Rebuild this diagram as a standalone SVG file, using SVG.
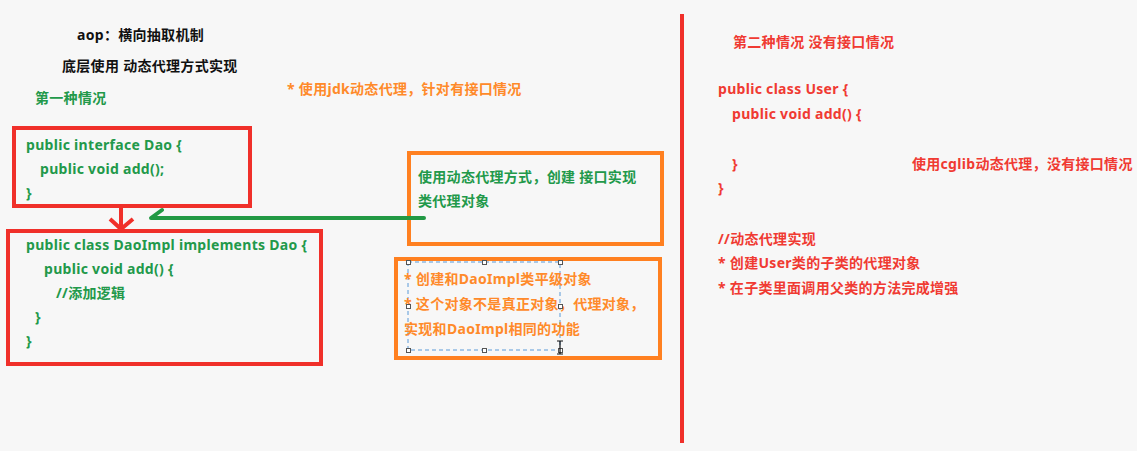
<svg xmlns="http://www.w3.org/2000/svg" width="1137" height="451" viewBox="0 0 1137 451">
<style>
text{font-family:"Noto Sans","Noto Sans CJK SC",sans-serif;font-size:14px;font-weight:bold;letter-spacing:0.3px}
.k{fill:#111}
.g{fill:#22994a}
.o{fill:#ff8a2a}
.r{fill:#f03a32}
.rb{fill:none;stroke:#f0302a;stroke-width:4}
.ob{fill:none;stroke:#ff8020;stroke-width:4}
.h{fill:#fff;stroke:#555;stroke-width:1}
</style>
<rect width="1137" height="451" fill="#f7f7f7"/>
<g id="title">
<text class="k" x="77" y="40">aop：横向抽取机制</text>
<text class="k" x="62" y="71">底层使用 动态代理方式实现</text>
<text class="g" x="35" y="103">第一种情况</text>
<text class="o" x="287" y="94">* 使用jdk动态代理，针对有接口情况</text>
</g>
<g id="dao">
<rect class="rb" x="14" y="128" width="236" height="78"/>
<text class="g" x="26" y="150">public interface Dao {</text>
<text class="g" x="40" y="174">public void add();</text>
<text class="g" x="26" y="198">}</text>
</g>
<g id="daoimpl">
<rect class="rb" x="8" y="231" width="313" height="133"/>
<text class="g" x="26" y="250">public class DaoImpl implements Dao {</text>
<text class="g" x="44" y="274">public void add() {</text>
<text class="g" x="56" y="298">//添加逻辑</text>
<text class="g" x="35" y="322">}</text>
<text class="g" x="26" y="346">}</text>
</g>
<g id="proxy-note">
<rect class="ob" x="409" y="153" width="253" height="91"/>
<text class="g" x="418" y="182">使用动态代理方式，创建 接口实现</text>
<text class="g" x="418" y="206">类代理对象</text>
</g>
<g id="proxy-desc">
<rect class="ob" x="396" y="259" width="264" height="99"/>
<rect x="408" y="262" width="152" height="88" fill="none" stroke="#5a9ad8" stroke-width="1" stroke-dasharray="4,3"/>
<text class="o" x="404" y="284">* 创建和DaoImpl类平级对象</text>
<text class="o" x="404" y="309">* 这个对象不是真正对象，代理对象，</text>
<text class="o" x="404" y="334">实现和DaoImpl相同的功能</text>
<rect class="h" x="406.5" y="260.5" width="4" height="4"/>
<rect class="h" x="482.5" y="260.5" width="4" height="4"/>
<rect class="h" x="558.5" y="260.5" width="4" height="4"/>
<rect class="h" x="406.5" y="304.5" width="4" height="4"/>
<rect class="h" x="558.5" y="304.5" width="4" height="4"/>
<rect class="h" x="406.5" y="348.5" width="4" height="4"/>
<rect class="h" x="482.5" y="348.5" width="4" height="4"/>
<rect class="h" x="558.5" y="348.5" width="4" height="4"/>
<path d="M557 341h6M560 341v13M557 354h6" stroke="#111" stroke-width="1.2" fill="none"/>
</g>
<g id="connectors">
<path d="M121 207V229M110 219L121 229L133 219" fill="none" stroke="#f0302a" stroke-width="4"/>
<path d="M424 218H151L162 210" fill="none" stroke="#229944" stroke-width="4" stroke-linecap="round" stroke-linejoin="round"/>
<line x1="682" y1="14" x2="682" y2="443" stroke="#f0302a" stroke-width="4"/>
</g>
<g id="cglib">
<text class="r" x="733" y="47">第二种情况 没有接口情况</text>
<text class="r" x="718" y="94">public class User {</text>
<text class="r" x="732" y="119">public void add() {</text>
<text class="r" x="732" y="169">}</text>
<text class="r" x="912" y="169">使用cglib动态代理，没有接口情况</text>
<text class="r" x="718" y="193">}</text>
<text class="r" x="718" y="244">//动态代理实现</text>
<text class="r" x="718" y="268">* 创建User类的子类的代理对象</text>
<text class="r" x="718" y="293">* 在子类里面调用父类的方法完成增强</text>
</g>
</svg>
